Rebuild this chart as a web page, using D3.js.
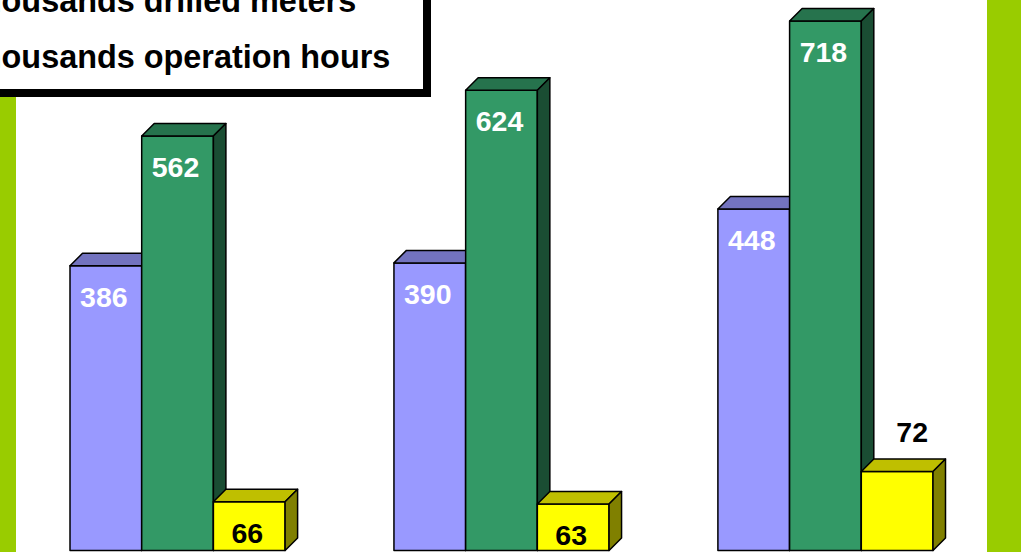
<!DOCTYPE html>
<html>
<head>
<meta charset="utf-8">
<script src="https://cdn.jsdelivr.net/npm/d3@7"></script>
<style>
  html, body { margin: 0; padding: 0; background: #ffffff; }
  svg { display: block; }
  text { font-family: "Liberation Sans", Arial, sans-serif; font-weight: bold; }
</style>
</head>
<body>
<svg id="chart" width="1021" height="552"></svg>
<script>
// ---- data ----
const categories = ["Period 1", "Period 2", "Period 3"];
const seriesNames = ["Series A", "Thousands drilled meters", "Thousands operation hours"];
const seriesBlue   = [386, 390, 463];
const seriesGreen  = [562, 624, 718];
const seriesYellow = [66, 63, 107];
const labelsBlue   = ["386", "390", "448"];
const labelsGreen  = ["562", "624", "718"];
const labelsYellow = ["66", "63", "72"];
const legendLines  = ["Thousands drilled meters", "Thousands operation hours"];

// ---- styles ----
const frontColors = ["#9999FF", "#339966", "#FFFF00"];
const labelColors = ["#FFFFFF", "#FFFFFF", "#000000"];
const stripColor = "#99CC00";

const W = 1021, H = 552;
const svg = d3.select("#chart");

const series = [seriesBlue, seriesGreen, seriesYellow];
const labels = [labelsBlue, labelsGreen, labelsYellow];

const x0 = d3.scaleBand().domain(categories).range([70, 933]).paddingInner(0.336).paddingOuter(0);
const x1 = d3.scaleBand().domain(d3.range(series.length)).range([0, x0.bandwidth()]).padding(0);
const y = d3.scaleLinear().domain([0, 800]).range([550.5, 550.5 - 590]);
const depth = 12.5;

// side strips
svg.append("rect").attr("x", 0).attr("y", 0).attr("width", 16).attr("height", H).attr("fill", stripColor);
svg.append("rect").attr("x", 987).attr("y", 0).attr("width", W - 987).attr("height", H).attr("fill", stripColor);

const shade = (c, k) => { const r = d3.rgb(c); return d3.rgb(r.r * k, r.g * k, r.b * k).formatHex(); };

const gBars = svg.append("g");
categories.forEach((cat, i) => {
  series.forEach((vals, s) => {
    const xl = x0(cat) + x1(s);
    const xr = xl + x1.bandwidth();
    const yt = y(vals[i]);
    const yb = y(0);
    const col = frontColors[s];
    const g = gBars.append("g").attr("stroke", "#000").attr("stroke-width", 1.5).attr("stroke-linejoin", "round");
    g.append("rect").attr("x", xl).attr("y", yt).attr("width", xr - xl).attr("height", yb - yt).attr("fill", col);
    g.append("path").attr("d", `M${xl},${yt}L${xl + depth},${yt - depth}L${xr + depth},${yt - depth}L${xr},${yt}Z`)
      .attr("fill", shade(col, 0.75));
    g.append("path").attr("d", `M${xr},${yt}L${xr + depth},${yt - depth}L${xr + depth},${yb - depth}L${xr},${yb}Z`)
      .attr("fill", shade(col, 0.5));
  });
});

// value labels
const gLab = svg.append("g");
categories.forEach((cat, i) => {
  series.forEach((vals, s) => {
    const xl = x0(cat) + x1(s);
    const cx = xl + x1.bandwidth() / 2;
    const yt = y(vals[i]);
    const outside = (s === 2 && i === categories.length - 1);
    gLab.append("text")
      .attr("x", outside ? cx + 15 : cx - 2)
      .attr("y", outside ? yt - 30 : yt + 41)
      .attr("text-anchor", "middle")
      .attr("font-size", 28.5)
      .attr("fill", labelColors[s])
      .text(labels[s][i]);
  });
});

// legend box (partly off the top-left edge)
const gLeg = svg.append("g");
gLeg.append("rect").attr("x", -60).attr("y", -60).attr("width", 60 + 427).attr("height", 60 + 93)
  .attr("fill", "#fff").attr("stroke", "#000").attr("stroke-width", 8);
legendLines.forEach((t, k) => {
  gLeg.append("text").attr("x", -38).attr("y", 12 + k * 56)
    .attr("font-size", 32.4).attr("fill", "#000").text(t);
});
</script>
</body>
</html>
